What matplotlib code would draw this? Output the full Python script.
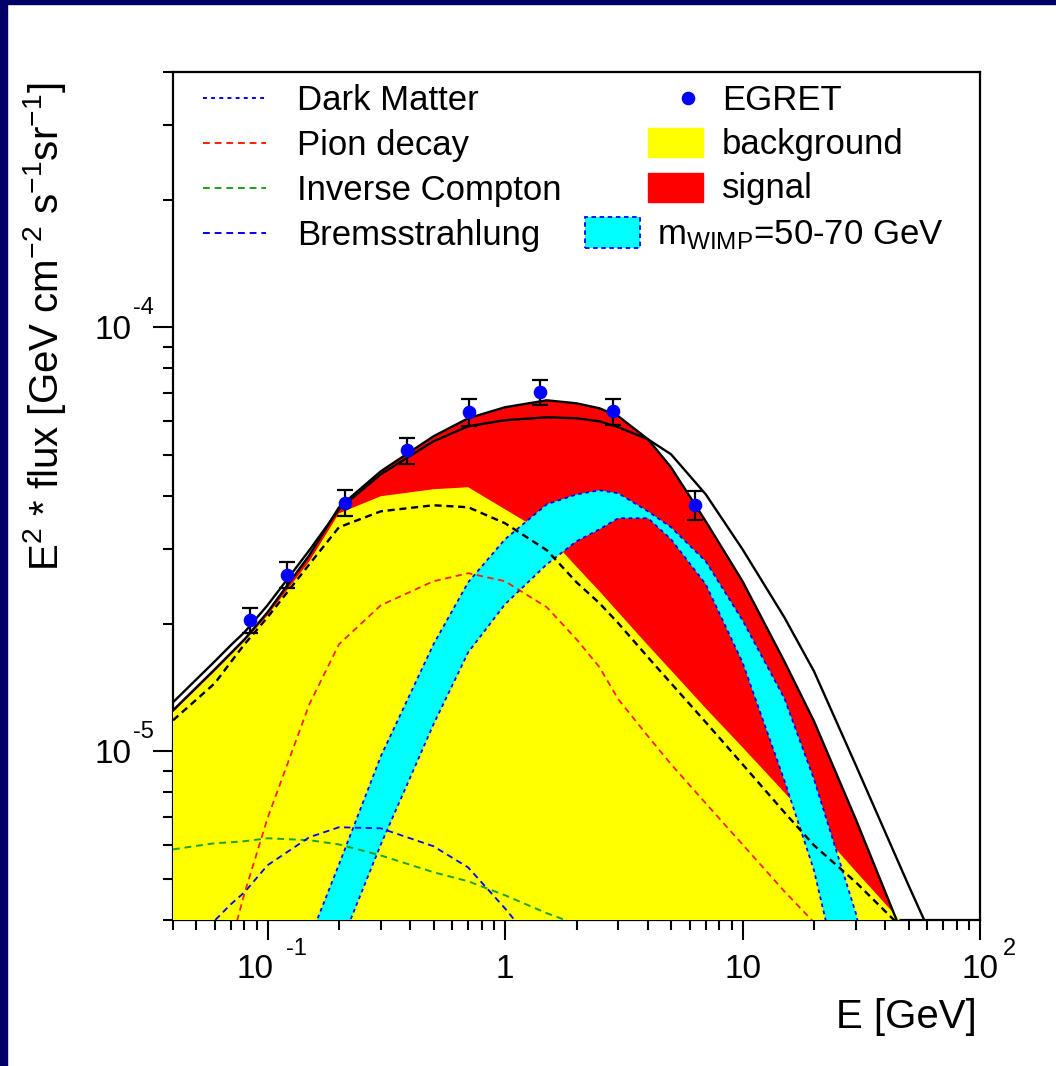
import matplotlib
matplotlib.use("Agg")
import matplotlib.pyplot as plt
from matplotlib.lines import Line2D
from matplotlib.patches import Rectangle
from matplotlib.ticker import LogLocator, NullFormatter

plt.rcParams['font.family'] = ['Liberation Sans', 'DejaVu Sans']
plt.rcParams['mathtext.fontset'] = 'custom'
plt.rcParams['mathtext.rm'] = 'Liberation Sans'
plt.rcParams['mathtext.it'] = 'Liberation Sans:italic'
plt.rcParams['mathtext.default'] = 'regular'

# ---------------- data ----------------
# energy grid (GeV) for all model curves
energy = [0.04, 0.06, 0.07, 0.08, 0.1, 0.15, 0.2, 0.3, 0.5, 0.7, 1.0, 1.5,
          2.0, 2.5, 3.0, 4.0, 5.0, 7.0, 10, 15, 20, 30, 50, 70, 100]

# total fit (upper edge of the signal region)
total_fit = [1.249e-5, 1.561e-5, 1.703e-5, 1.837e-5, 2.127e-5, 2.900e-5, 3.763e-5,
             4.575e-5, 5.533e-5, 6.101e-5, 6.477e-5, 6.726e-5, 6.617e-5, 6.44e-5,
             6.167e-5, 5.443e-5, 4.675e-5, 3.487e-5, 2.518e-5, 1.630e-5, 1.177e-5,
             6.91e-6, 3.41e-6, 2.09e-6, 1.22e-6]
# alternative total fit
total_alt = [1.305e-5, 1.630e-5, 1.778e-5, 1.909e-5, 2.210e-5, 2.979e-5, 3.722e-5,
             4.500e-5, 5.385e-5, 5.842e-5, 6.036e-5, 6.134e-5, 6.101e-5, 6.002e-5,
             5.811e-5, 5.443e-5, 5.017e-5, 4.038e-5, 2.995e-5, 2.070e-5, 1.544e-5,
             9.27e-6, 4.83e-6, 3.18e-6, 1.98e-6]
# background (top of the yellow area)
background = [1.236e-5, 1.544e-5, 1.685e-5, 1.817e-5, 2.093e-5, 2.806e-5, 3.641e-5,
              3.995e-5, 4.150e-5, 4.195e-5, 3.722e-5, 3.250e-5, 2.724e-5, 2.384e-5,
              2.127e-5, 1.778e-5, 1.552e-5, 1.263e-5, 1.022e-5, 8.00e-6, 6.73e-6,
              5.21e-6, 3.80e-6, 3.06e-6, 2.46e-6]
# sum of background components
bg_sum = [1.183e-5, 1.447e-5, 1.622e-5, 1.788e-5, 2.070e-5, 2.761e-5, 3.376e-5,
          3.681e-5, 3.804e-5, 3.763e-5, 3.450e-5, 2.980e-5, 2.504e-5, 2.234e-5,
          2.004e-5, 1.666e-5, 1.447e-5, 1.171e-5, 9.32e-6, 7.18e-6, 6.00e-6,
          4.91e-6, 3.70e-6, 2.98e-6, 2.40e-6]
pion_decay = [1.2e-6, 2.49e-6, 3.505e-6, 4.624e-6, 6.95e-6, 1.291e-5, 1.788e-5,
              2.210e-5, 2.518e-5, 2.630e-5, 2.518e-5, 2.186e-5, 1.837e-5, 1.578e-5,
              1.326e-5, 1.085e-5, 9.32e-6, 7.54e-6, 6.03e-6, 4.675e-6, 3.95e-6,
              3.06e-6, 2.21e-6, 1.80e-6, 1.43e-6]
inverse_compton = [5.87e-6, 6.07e-6, 6.10e-6, 6.135e-6, 6.235e-6, 6.17e-6, 6.03e-6,
                   5.68e-6, 5.185e-6, 4.935e-6, 4.575e-6, 4.15e-6, 3.91e-6, 3.70e-6,
                   3.51e-6, 3.23e-6, 3.03e-6, 2.75e-6, 2.46e-6, 2.15e-6, 1.96e-6,
                   1.68e-6, 1.36e-6, 1.15e-6, 9.3e-7]
bremsstrahlung = [3.06e-6, 3.99e-6, 4.355e-6, 4.65e-6, 5.385e-6, 6.27e-6, 6.62e-6,
                  6.58e-6, 5.97e-6, 5.32e-6, 4.26e-6, 3.23e-6, 2.60e-6, 2.2e-6,
                  1.88e-6, 1.43e-6, 1.15e-6, 7.9e-7, 5.1e-7, 3e-7, 2e-7,
                  1e-7, 5e-8, 3e-8, 2e-8]
# dark matter contribution, band for m_WIMP = 50-70 GeV
dm_high = [4.6e-7, 8.8e-7, 1.12e-6, 1.39e-6, 1.95e-6, 3.60e-6, 5.41e-6,
           9.73e-6, 1.788e-5, 2.504e-5, 3.162e-5, 3.824e-5, 4.034e-5, 4.127e-5,
           4.059e-5, 3.681e-5, 3.376e-5, 2.806e-5, 2.037e-5, 1.334e-5, 8.59e-6,
           4.15e-6, 1.15e-6, 2.96e-7, 1e-7]
dm_low = [3.3e-7, 6.0e-7, 7.5e-7, 9.1e-7, 1.26e-6, 2.28e-6, 3.43e-6,
          6.03e-6, 1.158e-5, 1.712e-5, 2.222e-5, 2.761e-5, 3.128e-5, 3.339e-5,
          3.545e-5, 3.545e-5, 3.162e-5, 2.477e-5, 1.62e-5, 8.54e-6, 5.24e-6,
          1.98e-6, 2e-7, 5e-8, 1e-8]

# EGRET measurements
egret_e = [0.084, 0.121, 0.211, 0.387, 0.705, 1.41, 2.84, 6.34]
egret_flux = [2.04e-5, 2.61e-5, 3.86e-5, 5.13e-5, 6.31e-5, 7.03e-5, 6.34e-5, 3.81e-5]
egret_err = [1.4e-6, 1.8e-6, 2.7e-6, 3.6e-6, 4.5e-6, 4.9e-6, 4.5e-6, 2.9e-6]

# axis tick labels: (value, mantissa, exponent)
x_tick_labels = [(0.1, "10", "-1"), (1, "1", None), (10, "10", None), (100, "10", "2")]
y_tick_labels = [(1e-4, "10", "-4"), (1e-5, "10", "-5")]

# ---------------- figure ----------------
W, H = 1056, 1066
fig = plt.figure(figsize=(W / 100, H / 100), dpi=100, facecolor='white')
navy = '#000066'
fig.add_artist(Rectangle((0, 0), 7 / W, 1, transform=fig.transFigure,
                         color=navy, zorder=10))
fig.add_artist(Rectangle((0, 1 - 4 / H), 1, 4 / H, transform=fig.transFigure,
                         color=navy, zorder=10))

ax_l, ax_r, ax_t, ax_b = 173, 980, 72, 920
ax = fig.add_axes([ax_l / W, 1 - ax_b / H, (ax_r - ax_l) / W, (ax_b - ax_t) / H])
ax.set_xscale('log')
ax.set_yscale('log')
ax.set_xlim(0.04, 100)
ax.set_ylim(4e-6, 4e-4)

floor = 1e-9
ax.fill_between(energy, floor, total_fit, color='#ff0000', lw=0, zorder=3)
ax.fill_between(energy, floor, background, color='#ffff00', lw=0, zorder=3.1)
ax.fill_between(energy, dm_low, dm_high, color='#00ffff', lw=0, zorder=3.2)

ax.plot(energy, inverse_compton, color='#1f9f1f', lw=1.4,
        linestyle=(0, (3.5, 2.5)), zorder=4)
ax.plot(energy, bremsstrahlung, color='#0000ff', lw=1.3,
        linestyle=(0, (3.5, 2.5)), zorder=4)
ax.plot(energy, pion_decay, color='#ff2000', lw=1.3,
        linestyle=(0, (3.5, 2.5)), zorder=4)
ax.plot(energy, dm_high, color='#0000ff', lw=1.3, linestyle=(0, (2, 2)), zorder=4)
ax.plot(energy, dm_low, color='#0000ff', lw=1.3, linestyle=(0, (2, 2)), zorder=4)
ax.plot(energy, bg_sum, color='black', lw=1.7, linestyle=(0, (3, 2)), zorder=4.2)
ax.plot(energy, total_alt, color='black', lw=1.7, zorder=4.5)
ax.plot(energy, total_fit, color='black', lw=1.7, zorder=4.5)

ax.errorbar(egret_e, egret_flux, yerr=egret_err, fmt='o', color='#0000ff',
            ms=8.8, mec='#0000ff', ecolor='black', elinewidth=1.6,
            capsize=6, capthick=1.6, zorder=6)

# axes styling
for s in ax.spines.values():
    s.set_linewidth(1.6)
ax.tick_params(which='both', direction='out', top=False, right=False,
               labelbottom=False, labelleft=False, width=1.5)
ax.tick_params(which='major', length=14.5)
ax.tick_params(which='minor', length=7.5)
ax.xaxis.set_major_locator(LogLocator(base=10, numticks=20))
ax.xaxis.set_minor_locator(LogLocator(base=10, subs=range(2, 10), numticks=40))
ax.yaxis.set_major_locator(LogLocator(base=10, numticks=20))
ax.yaxis.set_minor_locator(LogLocator(base=10, subs=range(2, 10), numticks=40))
ax.xaxis.set_minor_formatter(NullFormatter())
ax.yaxis.set_minor_formatter(NullFormatter())

px2pt = 72 / 100
tick_fs, exp_fs = 24, 17
for val, mant, expo in x_tick_labels:
    dx = -13 if expo == "-1" else 0
    ax.annotate(mant, xy=(val, 0), xycoords=('data', 'axes fraction'),
                xytext=(dx * px2pt, -49 * px2pt), textcoords='offset points',
                ha='center', va='center', fontsize=tick_fs)
    if expo:
        ax.annotate(expo, xy=(val, 0), xycoords=('data', 'axes fraction'),
                    xytext=(29 * px2pt, -29 * px2pt), textcoords='offset points',
                    ha='center', va='center', fontsize=exp_fs)
for val, mant, expo in y_tick_labels:
    ax.annotate(mant, xy=(0, val), xycoords=('axes fraction', 'data'),
                xytext=(-60 * px2pt, -3 * px2pt), textcoords='offset points',
                ha='center', va='center', fontsize=tick_fs)
    ax.annotate(expo, xy=(0, val), xycoords=('axes fraction', 'data'),
                xytext=(-30 * px2pt, 19 * px2pt), textcoords='offset points',
                ha='center', va='center', fontsize=exp_fs)

fig.text(45 / W, 1 - 327 / H,
         r'E$^{2}$ * flux [GeV cm$^{-2}$ s$^{-1}$sr$^{-1}$]',
         rotation=90, ha='center', va='center', fontsize=29)
fig.text(977 / W, 1 - 1017 / H, 'E [GeV]', ha='right', va='center', fontsize=29)

# ---------------- legend ----------------
def fx(px):
    return (px - ax_l) / (ax_r - ax_l)

def fy(py):
    return (ax_b - py) / (ax_b - ax_t)

leg_fs = 25
left_entries = [
    ("Dark Matter", '#0000ff', (0, (2, 2.2))),
    ("Pion decay", '#ff2000', (0, (3.5, 2.5))),
    ("Inverse Compton", '#1f9f1f', (0, (3.5, 2.5))),
    ("Bremsstrahlung", '#0000ff', (0, (3.5, 2.5))),
]
row_mid = [98, 143, 188, 233]
row_base = [110, 155, 200, 245]
for (lab, col, ls), ym, yb in zip(left_entries, row_mid, row_base):
    ax.add_line(Line2D([fx(203), fx(266)], [fy(ym), fy(ym)], color=col, lw=1.4,
                       linestyle=ls, transform=ax.transAxes, zorder=7))
    ax.text(fx(297), fy(yb), lab, transform=ax.transAxes, fontsize=leg_fs,
            ha='left', va='baseline', zorder=7)

ax.add_line(Line2D([fx(688)], [fy(98)], marker='o', ms=8.8, color='#0000ff',
                   transform=ax.transAxes, zorder=7))
ax.text(fx(722), fy(110), 'EGRET', transform=ax.transAxes, fontsize=leg_fs,
        ha='left', va='baseline', zorder=7)
ax.add_patch(Rectangle((fx(648), fy(157)), fx(703) - fx(648), fy(128) - fy(157),
                       transform=ax.transAxes, color='#ffff00', zorder=7))
ax.text(fx(722), fy(154), 'background', transform=ax.transAxes, fontsize=leg_fs,
        ha='left', va='baseline', zorder=7)
ax.add_patch(Rectangle((fx(648), fy(202)), fx(703) - fx(648), fy(173) - fy(202),
                       transform=ax.transAxes, color='#ff0000', zorder=7))
ax.text(fx(722), fy(198), 'signal', transform=ax.transAxes, fontsize=leg_fs,
        ha='left', va='baseline', zorder=7)
ax.add_patch(Rectangle((fx(585), fy(248)), fx(640) - fx(585), fy(217) - fy(248),
                       transform=ax.transAxes, facecolor='#00ffff',
                       edgecolor='#0000ff', lw=1.3, linestyle=(0, (2.5, 2)),
                       zorder=7))
ax.text(fx(657), fy(244), r'm$_{WIMP}$=50-70 GeV', transform=ax.transAxes,
        fontsize=leg_fs, ha='left', va='baseline', zorder=7)

fig.savefig('out.png', dpi=100, facecolor='white')
